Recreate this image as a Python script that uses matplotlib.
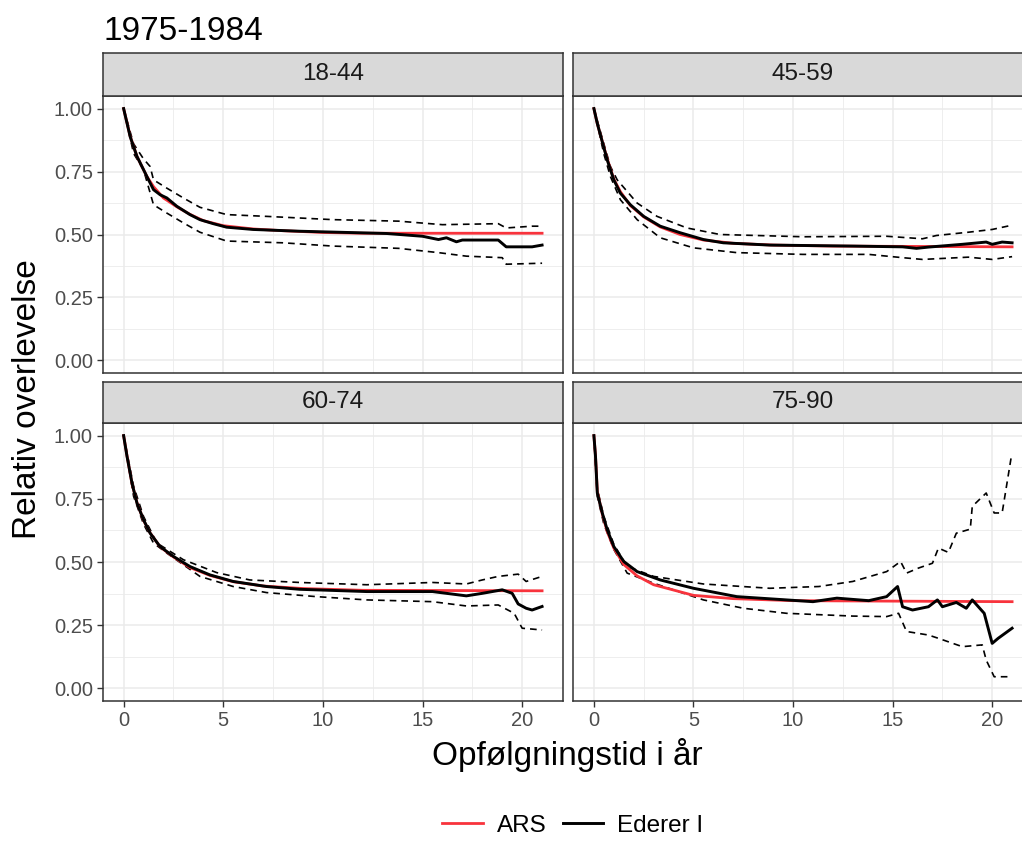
import matplotlib
matplotlib.use('Agg')
import matplotlib.pyplot as plt
from matplotlib.lines import Line2D

plt.rcParams['font.family'] = ['Liberation Sans', 'DejaVu Sans']

# data: time (years) and relative survival per age group
groups = ['18-44', '45-59', '60-74', '75-90']

# ARS (red)
ars_t = [
    [0, 0.33, 0.67, 1.17, 1.5, 2.0, 2.67, 3.33, 4.0, 5.0, 6.5, 8.0, 10.0, 12.0, 21.0],
    [0, 0.17, 0.42, 0.67, 1.0, 1.33, 1.83, 2.5, 3.33, 4.33, 5.5, 7.0, 9.0, 12.0, 21.0],
    [0, 0.17, 0.42, 0.67, 1.0, 1.33, 1.83, 2.5, 3.33, 4.33, 5.5, 7.0, 9.0, 12.0, 21.0],
    [0, 0.08, 0.17, 0.42, 0.67, 1.0, 1.5, 2.17, 3.0, 5.0, 7.0, 10.0, 21.0],
]
ars_v = [
    [1.0, 0.89, 0.81, 0.73, 0.69, 0.645, 0.61, 0.58, 0.555, 0.535, 0.522, 0.515, 0.508, 0.505, 0.505],
    [1.0, 0.94, 0.87, 0.80, 0.72, 0.67, 0.615, 0.57, 0.53, 0.50, 0.478, 0.465, 0.458, 0.454, 0.451],
    [1.0, 0.92, 0.81, 0.735, 0.665, 0.615, 0.56, 0.52, 0.478, 0.447, 0.422, 0.405, 0.395, 0.388, 0.386],
    [1.0, 0.92, 0.78, 0.69, 0.62, 0.555, 0.49, 0.445, 0.41, 0.368, 0.355, 0.347, 0.343],
]

# Ederer I (black)
ed_t = [
    [0, 0.33, 0.67, 1.17, 1.5, 1.83, 2.17, 2.67, 3.33, 3.83, 4.5, 5.17, 6.5, 8.83, 13.2, 15.0, 15.8,
     16.2, 16.7, 17.0, 18.8, 19.2, 20.5, 21.0],
    [0, 0.17, 0.42, 0.67, 1.0, 1.33, 1.83, 2.5, 3.33, 4.33, 5.5, 6.5, 8.83, 13.0, 15.5, 16.2, 16.8,
     18.5, 19.7, 20.0, 20.5, 21.0],
    [0, 0.17, 0.42, 0.67, 1.0, 1.33, 1.83, 2.5, 3.33, 4.33, 5.5, 7.17, 8.83, 12.2, 15.5, 17.2, 18.0,
     19.0, 19.5, 19.8, 20.2, 20.5, 21.0],
    [0, 0.08, 0.17, 0.42, 0.67, 1.0, 1.5, 2.17, 3.33, 5.0, 7.17, 9.67, 11.0, 12.2, 13.8, 14.7, 15.25,
     15.5, 16.0, 16.8, 17.25, 17.5, 18.2, 18.7, 19.0, 19.6, 20.0, 20.3, 21.0],
]
ed_v = [
    [1.0, 0.888, 0.81, 0.73, 0.678, 0.658, 0.645, 0.612, 0.579, 0.559, 0.543, 0.529, 0.52, 0.513, 0.504,
     0.493, 0.48, 0.487, 0.471, 0.478, 0.478, 0.451, 0.451, 0.458],
    [1.0, 0.941, 0.868, 0.796, 0.717, 0.664, 0.618, 0.572, 0.533, 0.507, 0.48, 0.467, 0.458, 0.454, 0.451,
     0.445, 0.45, 0.461, 0.47, 0.461, 0.47, 0.467],
    [1.0, 0.918, 0.812, 0.733, 0.667, 0.614, 0.561, 0.522, 0.482, 0.449, 0.423, 0.403, 0.392, 0.383, 0.383,
     0.366, 0.376, 0.39, 0.376, 0.334, 0.317, 0.31, 0.324],
    [1.0, 0.918, 0.773, 0.694, 0.627, 0.561, 0.502, 0.462, 0.429, 0.396, 0.363, 0.35, 0.343, 0.357, 0.347,
     0.363, 0.403, 0.323, 0.31, 0.323, 0.35, 0.323, 0.34, 0.317, 0.35, 0.297, 0.178, 0.198, 0.238],
]

# confidence limits (dashed)
hi_t = [
    [0, 0.5, 1.0, 1.33, 1.5, 2.17, 3.0, 3.83, 5.17, 7.17, 10.5, 13.8, 16.0, 18.8, 19.2, 20.5, 21.0],
    [0, 0.5, 0.83, 1.17, 2.17, 3.17, 4.67, 6.33, 10.5, 14.7, 16.5, 17.2, 18.8, 20.0, 21.0],
    [0, 0.5, 1.0, 1.67, 3.0, 4.67, 6.33, 8.83, 12.2, 15.5, 17.2, 18.0, 18.8, 19.8, 20.2, 21.0],
    [0, 0.17, 0.5, 1.0, 1.67, 3.0, 5.5, 8.83, 11.3, 13.0, 14.7, 15.4, 15.7, 16.3, 17.0, 17.3, 17.8,
     18.2, 18.9, 19.0, 19.7, 20.1, 20.5, 20.95],
]
hi_v = [
    [1.0, 0.86, 0.80, 0.77, 0.717, 0.684, 0.645, 0.608, 0.579, 0.572, 0.559, 0.553, 0.539, 0.543, 0.526,
     0.533, 0.533],
    [1.0, 0.86, 0.77, 0.717, 0.625, 0.572, 0.526, 0.50, 0.491, 0.493, 0.483, 0.496, 0.509, 0.52, 0.537],
    [1.0, 0.80, 0.68, 0.575, 0.509, 0.458, 0.429, 0.419, 0.41, 0.419, 0.413, 0.429, 0.443, 0.452, 0.423,
     0.443],
    [1.0, 0.79, 0.68, 0.57, 0.482, 0.443, 0.413, 0.396, 0.403, 0.423, 0.462, 0.502, 0.456, 0.476, 0.495,
     0.555, 0.538, 0.614, 0.63, 0.72, 0.773, 0.694, 0.694, 0.912],
]
lo_t = [
    [0, 0.5, 1.0, 1.5, 2.17, 3.0, 3.83, 5.17, 8.0, 10.5, 13.8, 15.8, 17.2, 19.0, 19.2, 21.0],
    [0, 0.5, 0.83, 1.33, 2.17, 3.33, 5.0, 7.17, 10.5, 13.8, 15.5, 16.5, 18.8, 20.0, 21.0],
    [0, 0.5, 1.0, 1.5, 2.17, 3.83, 5.5, 7.17, 9.67, 12.2, 15.5, 17.2, 18.8, 19.6, 20.0, 21.0],
    [0, 0.17, 0.5, 1.0, 1.67, 3.0, 5.5, 7.5, 9.67, 13.0, 14.7, 15.3, 15.7, 16.8, 17.3, 18.5, 19.5,
     19.7, 20.1, 20.9],
]
lo_v = [
    [1.0, 0.822, 0.757, 0.618, 0.585, 0.546, 0.509, 0.474, 0.467, 0.454, 0.445, 0.428, 0.414, 0.408,
     0.382, 0.386],
    [1.0, 0.82, 0.73, 0.638, 0.559, 0.487, 0.447, 0.428, 0.421, 0.421, 0.408, 0.401, 0.41, 0.401, 0.412],
    [1.0, 0.76, 0.65, 0.575, 0.535, 0.443, 0.403, 0.379, 0.363, 0.35, 0.343, 0.326, 0.33, 0.297, 0.238,
     0.231],
    [1.0, 0.76, 0.65, 0.55, 0.456, 0.416, 0.35, 0.317, 0.297, 0.286, 0.284, 0.297, 0.225, 0.211, 0.198,
     0.165, 0.172, 0.112, 0.046, 0.046],
]

W, H = 1022, 841
fig = plt.figure(figsize=(W / 100, H / 100), dpi=100)


def box(x0, x1, y0, y1):
    # pixel box -> figure fraction
    return [x0 / W, 1 - y1 / H, (x1 - x0) / W, (y1 - y0) / H]


cols = [(102.7, 563), (573, 1033)]
rows = [(53, 96, 373), (382, 423, 701)]

for i, g in enumerate(groups):
    r, c = divmod(i, 2)
    x0, x1 = cols[c]
    s0, p0, p1 = rows[r]

    ax = fig.add_axes(box(x0, x1, p0, p1))
    ax.set_xlim(-1.05, 22.05)
    ax.set_ylim(-0.05, 1.05)
    ax.set_xticks([0, 5, 10, 15, 20])
    ax.set_xticks([2.5, 7.5, 12.5, 17.5], minor=True)
    ax.set_yticks([0, 0.25, 0.5, 0.75, 1.0])
    ax.set_yticks([0.125, 0.375, 0.625, 0.875], minor=True)
    ax.grid(True, which='major', color='#EBEBEB', lw=1.1)
    ax.grid(True, which='minor', color='#EBEBEB', lw=0.6)
    ax.set_axisbelow(True)
    for sp in ax.spines.values():
        sp.set_color('#333333')
        sp.set_linewidth(1.1)
    ax.tick_params(which='major', length=4, width=1.0, color='#333333',
                   labelsize=14.5, labelcolor='#4D4D4D', pad=3)
    ax.tick_params(which='minor', length=0)
    if c == 0:
        ax.set_yticklabels(['0.00', '0.25', '0.50', '0.75', '1.00'])
    else:
        ax.tick_params(axis='y', which='major', length=0, labelleft=False)
    if r == 0:
        ax.tick_params(axis='x', which='major', length=0, labelbottom=False)

    ax.plot(hi_t[i], hi_v[i], color='black', lw=1.2, ls=(0, (4, 3)))
    ax.plot(lo_t[i], lo_v[i], color='black', lw=1.2, ls=(0, (4, 3)))
    ax.plot(ars_t[i], ars_v[i], color='#F8333C', lw=2.0)
    ax.plot(ed_t[i], ed_v[i], color='black', lw=2.1)

    st = fig.add_axes(box(x0, x1, s0, p0))
    st.set_facecolor('#D9D9D9')
    st.set_xticks([])
    st.set_yticks([])
    for sp in st.spines.values():
        sp.set_color('#333333')
        sp.set_linewidth(1.1)
    st.text(0.5, 0.5, g, ha='center', va='center', fontsize=17.5, color='#1A1A1A',
            transform=st.transAxes)

fig.text(104 / W, 1 - 31 / H, '1975-1984', fontsize=24, ha='left', va='center')
fig.text(28 / W, 1 - 399 / H, 'Relativ overlevelse', fontsize=24, rotation=90,
         ha='center', va='center')
fig.text(567 / W, 1 - 755 / H, 'Opfølgningstid i år', fontsize=24, ha='center', va='center')

handles = [Line2D([], [], color='#F8333C', lw=2.0), Line2D([], [], color='black', lw=2.1)]
fig.legend(handles, ['ARS', 'Ederer I'], loc='center', bbox_to_anchor=(573 / W, 1 - 826 / H),
           ncol=2, frameon=False, fontsize=17.5, handlelength=1.65, handletextpad=0.6,
           columnspacing=0.65)

fig.savefig('out.png', dpi=100)
